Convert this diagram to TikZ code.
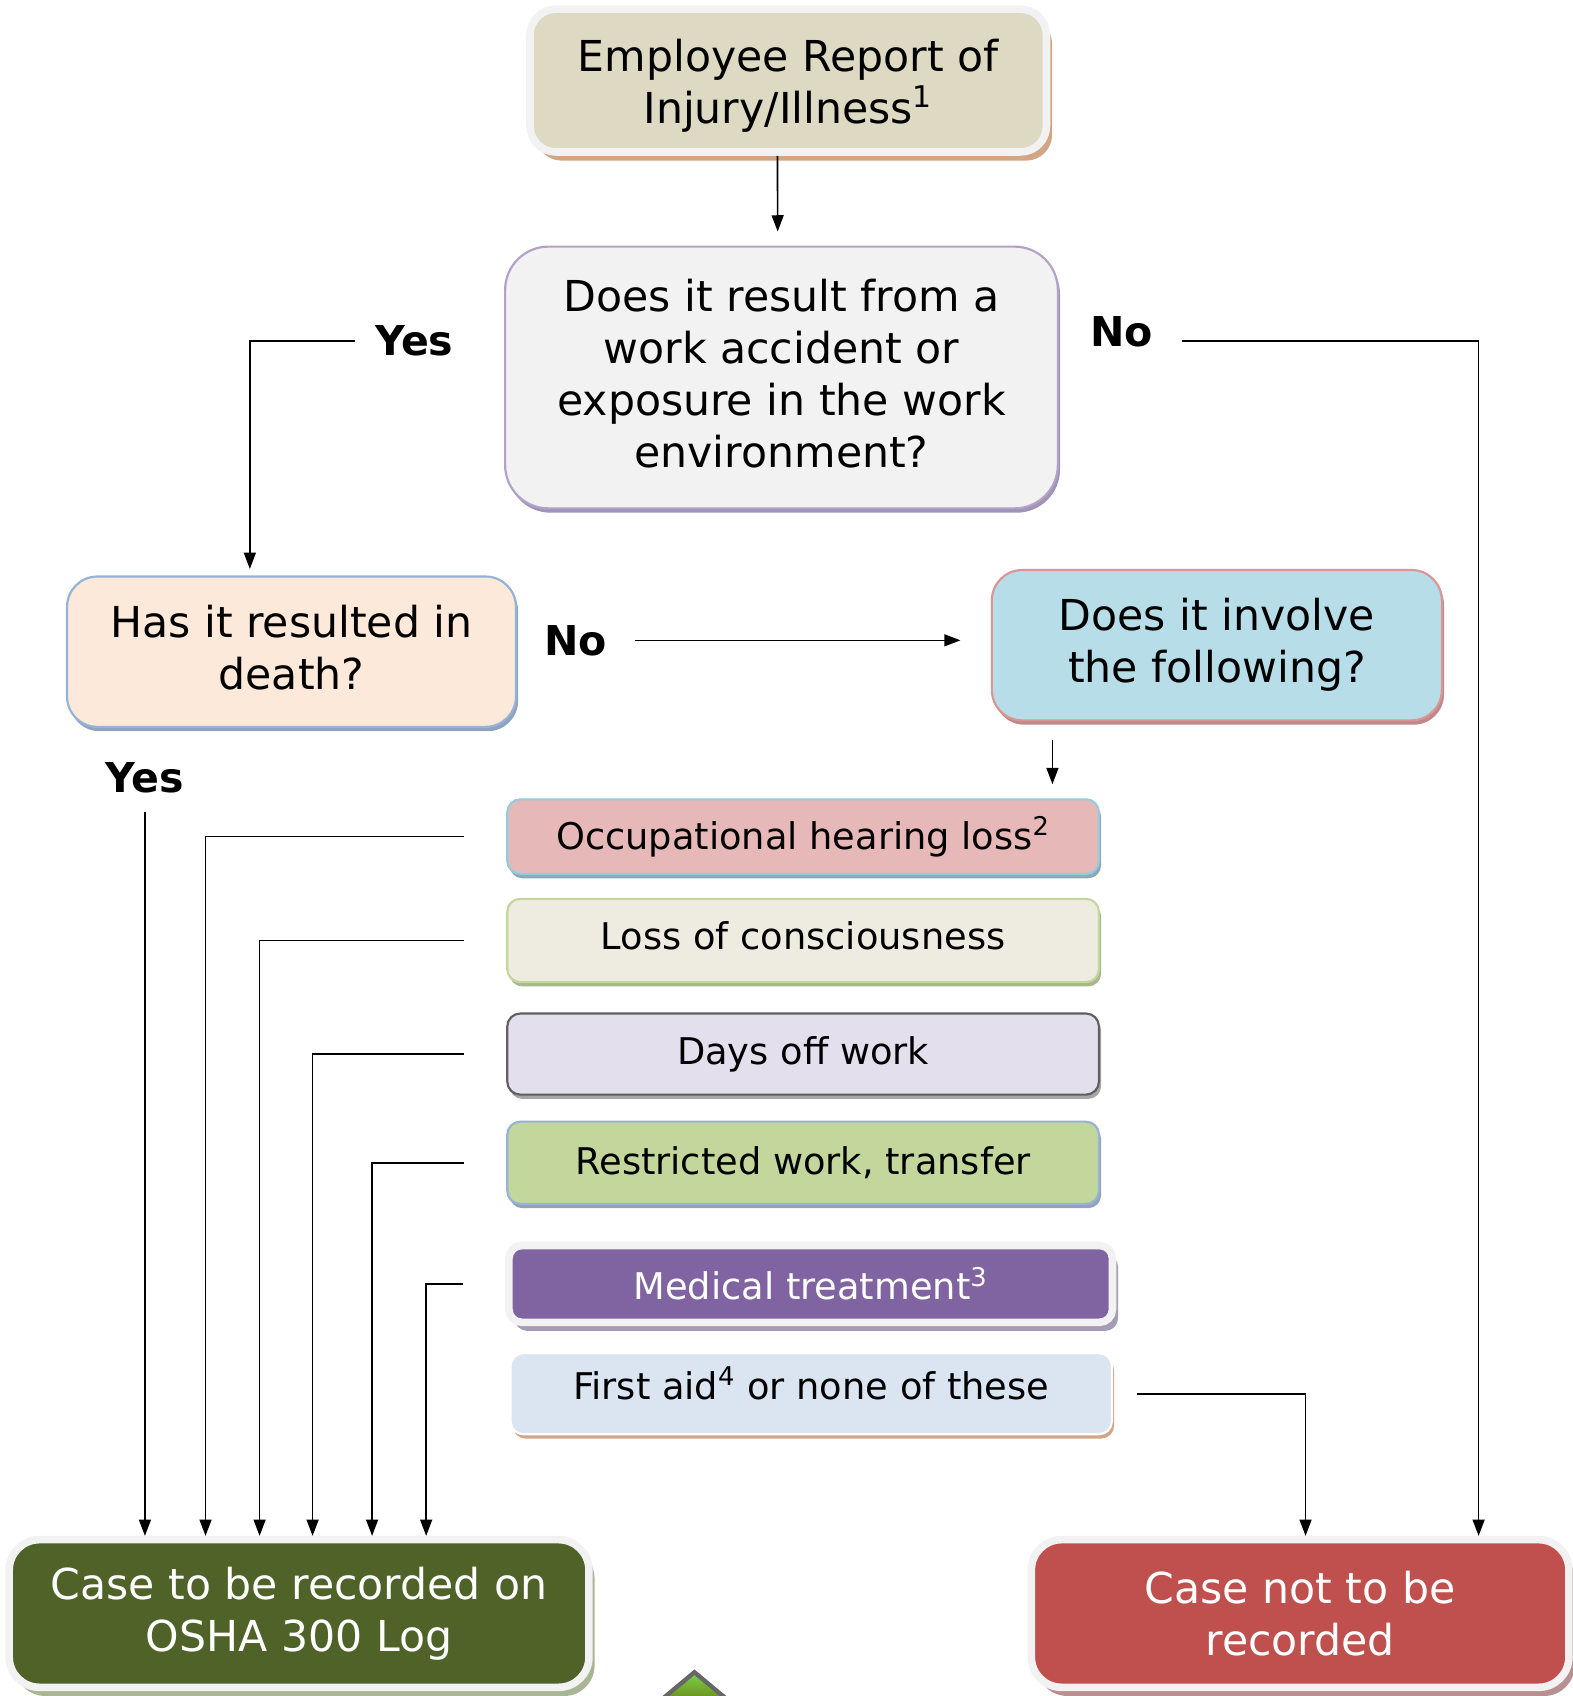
\documentclass[tikz,border=0pt]{standalone}
\usepackage{fontspec}
\setmainfont{DejaVu Sans}
\usetikzlibrary{arrows.meta,calc,shadows}

\definecolor{rimgray}{HTML}{F2F2F2}
\definecolor{reportfill}{HTML}{DDD9C3}
\definecolor{reportshadow}{HTML}{D2A584}
\definecolor{workline}{HTML}{B3A2C7}
\definecolor{workshadow}{HTML}{A094B6}
\definecolor{deathfill}{HTML}{FDE9D9}
\definecolor{deathline}{HTML}{95B3D7}
\definecolor{deathshadow}{HTML}{8FA3BD}
\definecolor{involvefill}{HTML}{B7DEE8}
\definecolor{involveline}{HTML}{D99694}
\definecolor{involveshadow}{HTML}{C0888A}
\definecolor{hearingfill}{HTML}{E6B9B8}
\definecolor{hearingline}{HTML}{93CDDD}
\definecolor{hearingshadow}{HTML}{8EA9B3}
\definecolor{consciousfill}{HTML}{EEECE1}
\definecolor{consciousline}{HTML}{C3D69B}
\definecolor{consciousshadow}{HTML}{A8B78C}
\definecolor{daysfill}{HTML}{E4DFEC}
\definecolor{daysline}{HTML}{606060}
\definecolor{daysshadow}{HTML}{A6A6A6}
\definecolor{restrictfill}{HTML}{C3D69B}
\definecolor{restrictline}{HTML}{95B3D7}
\definecolor{restrictshadow}{HTML}{94A3B8}
\definecolor{medicalfill}{HTML}{8064A2}
\definecolor{medicalshadow}{HTML}{A59DB2}
\definecolor{aidfill}{HTML}{DBE5F1}
\definecolor{aidshadow}{HTML}{D2A584}
\definecolor{loggedfill}{HTML}{4F6228}
\definecolor{loggedshadow}{HTML}{A9B594}
\definecolor{notfill}{HTML}{C0504D}
\definecolor{notshadow}{HTML}{B89092}

\begin{document}
\begin{tikzpicture}[x=0.5pt, y=-0.5pt,
  bigbox/.style={align=center, inner sep=0pt, line width=1pt, rounded corners=14pt,
    font=\fontsize{19.7}{24}\selectfont},
  itembox/.style={align=center, inner sep=0pt, line width=1pt, rounded corners=6pt,
    minimum width=273.5pt, font=\fontsize{17}{21}\selectfont},
  rim/.style={draw=rimgray, line width=3.5pt},
  dshadow/.style={drop shadow={shadow xshift=1pt, shadow yshift=-2pt, fill=#1, opacity=1}},
  rimshadow/.style={drop shadow={shadow xshift=2.6pt, shadow yshift=-4pt, fill=#1, opacity=1}},
  lbl/.style={inner sep=0pt, font=\fontsize{19}{23}\selectfont\bfseries},
  arr/.style={-{Triangle[length=7.5pt,width=5.5pt]}, line width=0.75pt}]
  \useasboundingbox (0,0) rectangle (1454,1568);

  % questions
  \node[bigbox, rim, fill=reportfill, rimshadow=reportshadow, minimum width=238.75pt,
    minimum height=66pt, rounded corners=12pt, text height=44pt] (report) at (728.75,74.5)
    {Employee Report of\\Injury/Illness\textsuperscript{1}};
  \node[bigbox, draw=workline, fill=rimgray, dshadow=workshadow, minimum width=255.5pt,
    minimum height=121pt, rounded corners=20pt, text depth=4pt] (work) at (722.5,349)
    {Does it result from a\\work accident or\\exposure in the work\\environment?};
  \node[bigbox, draw=deathline, fill=deathfill, dshadow=deathshadow, minimum width=207.5pt,
    minimum height=69.5pt, text depth=4pt] (death) at (269.5,602.5) {Has it resulted in\\death?};
  \node[bigbox, draw=involveline, fill=involvefill, dshadow=involveshadow, minimum width=208pt,
    minimum height=69.5pt] (involve) at (1125,596.5) {Does it involve\\the following?};

  % criteria
  \node[itembox, draw=hearingline, fill=hearingfill, dshadow=hearingshadow,
    minimum height=34.5pt] (hearing) at (742.5,773.5) {Occupational hearing loss\textsuperscript{2}};
  \node[itembox, draw=consciousline, fill=consciousfill, dshadow=consciousshadow, text depth=5pt,
    minimum height=38.5pt] (conscious) at (742.5,869.5) {Loss of consciousness};
  \node[itembox, draw=daysline, fill=daysfill, dshadow=daysshadow,
    minimum height=37.5pt] (daysoff) at (742.5,974.5) {Days off work};
  \node[itembox, draw=restrictline, fill=restrictfill, dshadow=restrictshadow,
    minimum height=38pt] (restricted) at (742.5,1075) {Restricted work, transfer};
  \node[itembox, rim, fill=medicalfill, rimshadow=medicalshadow, text=white,
    minimum width=279pt, minimum height=35.5pt] (medical) at (749.5,1187) {Medical treatment\textsuperscript{3}};
  \node[itembox, draw=white, fill=aidfill, dshadow=aidshadow, text depth=10pt,
    minimum width=278pt, minimum height=37.5pt] (firstaid) at (750,1288.5) {First aid\textsuperscript{4} or none of these};

  % outcomes
  \node[bigbox, rim, fill=loggedfill, rimshadow=loggedshadow, text=white, minimum width=268pt,
    minimum height=68.25pt] (logged) at (276.5,1491.7) {Case to be recorded on\\OSHA 300 Log};
  \node[bigbox, rim, fill=notfill, rimshadow=notshadow, text=white, minimum width=248.5pt,
    minimum height=68.25pt] (notlogged) at (1202,1491.7) {Case not to be\\recorded};

  \node[lbl] (yesA) at (383,315) {Yes};
  \node[lbl] (noA) at (1037,307) {No};
  \node[lbl] (noB) at (532,592) {No};
  \node[lbl] (yesB) at (134,719) {Yes};

  \draw[arr] ([xshift=-5pt]report.south) -- ([xshift=-1.75pt,yshift=6.5pt]work.north);
  \draw[arr, shorten <=9pt] (yesA.west) -| ([xshift=-19.25pt,yshift=3pt]death.north);
  \draw[arr, shorten <=13pt] ([yshift=-4pt]noA.east) -| ([xshift=82.5pt]notlogged.north);
  \draw[arr, shorten <=13pt, shorten >=14pt] (noB.east) -- (noB.east -| involve.west);
  \draw[arr] ($(involve.south)+(-76pt,-8.5pt)$) -- ($(involve.south |- hearing.north)+(-76pt,6.5pt)$);
  \draw[arr, shorten <=8.5pt] (yesB.south) -- (yesB.south |- logged.north);
  \foreach \item/\dx in {hearing/-43.25,conscious/-18.25,daysoff/6.25,restricted/33.75,medical/58.75}
    \draw[arr, shorten <=19.5pt] (\item.west) -| ([xshift=\dx pt]logged.north);
  \draw[arr, shorten <=11pt] (firstaid.east) -| ([xshift=2.5pt]notlogged.north);

  % cut-off marker at the bottom
  \draw[draw=black!60, line width=2pt, top color=green!50!olive!70, bottom color=olive!80!black]
    (642,1546) -- (690,1586) -- (594,1586) -- cycle;
\end{tikzpicture}
\end{document}
